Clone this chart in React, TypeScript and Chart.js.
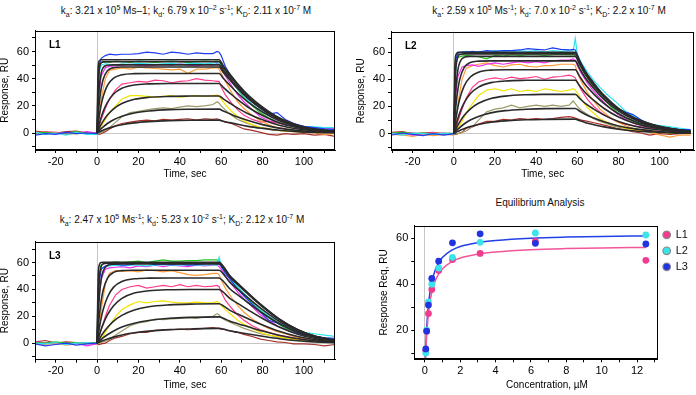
import React, { useEffect, useRef } from "react";
import { Chart, registerables } from "chart.js";

Chart.register(...registerables);

const FONT = '"Liberation Sans", Arial, Helvetica, sans-serif';
Chart.defaults.font.family = FONT;
Chart.defaults.color = "#000";

// ---------- sensorgram time bases ----------
const TRACE_T = [-30, -25, -20, -15, -10, -5, 0, 1, 2, 4, 6, 9, 12, 16, 20, 24, 28, 32, 36, 40, 44, 48, 52, 56, 58, 59, 60, 62, 65, 68, 71, 75, 79, 83, 87, 91, 95, 100, 105, 110, 115];
const FIT_T = [0, 0.5, 1, 2, 3, 5, 8, 12, 18, 25, 35, 45, 59, 61, 64, 68, 73, 80, 88, 97, 106, 115];

const TIME_TICK_STEP = 10;
const TIME_LABEL_STEP = 20;
const RESP_TICK_STEP = 10;
const RESP_LABEL_STEP = 20;

// ---------- L1 measured traces (blue, cyan, green, magenta, orange, pink, yellow, olive, dark red) ----------
const L1_BLUE = [-1.5, -0.5, -1, 0.5, -0.5, 0, -0.5, 50, 55, 57, 58, 57.5, 58, 58, 58.5, 59.5, 59, 58, 59.5, 59, 58, 59, 58.5, 58.5, 60, 59.5, 57, 49, 41, 35, 29, 23, 18, 14, 15, 10, 7, 5, 4, 3, 2.5];
const L1_CYAN = [0.5, -1, 0, -1.5, 0.5, -1, -1, 45, 50, 51, 50.5, 50, 51, 50.5, 51.5, 51, 50.5, 51, 51.5, 50.5, 51, 51.5, 51, 51.5, 52, 51, 50, 44, 38, 32, 27, 21, 16, 13, 12, 8, 6, 5, 4.5, 4, 4];
const L1_GREEN = [0, 0.5, -0.5, 0, 1, -0.5, 0, 48, 52, 52.5, 52, 53, 52.5, 52, 53, 52.5, 52, 52.5, 53, 52.5, 52, 52.5, 53, 52.5, 53, 52.5, 51, 46, 39, 32, 26, 20, 15, 11, 8, 6, 5, 3.5, 3, 2.5, 2];
const L1_MAGENTA = [0.5, 0, -0.5, 0.5, 0, 1, 0, 30, 42, 48, 49, 49.5, 50, 50.5, 50, 49.5, 50, 50.5, 50, 51, 50, 49.5, 50.5, 50, 51, 50, 47, 42, 35, 28, 23, 17, 12, 9, 8, 6, 5, 5, 4, 4, 3.5];
const L1_ORANGE = [-1, -0.5, 0, -1, -0.5, 0, -0.5, 10, 25, 40, 46, 47, 48, 47, 48.5, 48, 47.5, 47, 46.5, 47, 44, 47, 47, 48, 48, 47, 44, 38, 30, 23, 18, 13, 9, 6, 4, 3, 2, 1.5, 0, -1, -0.5];
const L1_PINK = [0, 1, 0.5, -0.5, 0, 0.5, 0, 5, 10, 18, 25, 32, 36, 37, 38, 37.5, 39, 38.5, 37, 38, 38.5, 40, 39, 38.5, 38, 38, 34, 28, 22, 17, 13, 10, 8, 8.5, 7.5, 6, 5, 4, 3.5, 3, 3];
const L1_YELLOW = [0.5, 0, -0.5, 0, 0.5, -0.5, 0, 2, 5, 10, 15, 20, 25, 27.5, 27.5, 27, 26.5, 27, 27.5, 26.5, 27, 27.5, 27, 27.5, 28, 27, 25, 21, 16, 12, 9, 6, 4, 3, 2, 1.5, 1, 1, 0.5, 0.5, 0.5];
const L1_OLIVE = [0, -0.5, 0.5, 0, -0.5, 0, -1, 0, 0.5, 2, 4, 8, 12, 15, 16, 17, 18, 18.5, 18, 19, 20, 19.5, 20, 21, 23, 22, 20, 17, 13, 10, 8, 6, 4, 3, 2, 1.5, 1, 0.5, 0, 0.5, 0];
const L1_DARKRED = [1.5, 0.5, 0, 1, 1.5, 0, -0.5, -1, -0.5, 1, 3, 5.5, 7, 8, 9, 9.5, 9, 10, 9.5, 10, 10.5, 9.5, 10.5, 10, 10.5, 10, 9, 8, 7, 5, 3, 2, 0.5, -1, -1.5, -0.5, -1, -0.5, -1.5, -1, -2.5];

// ---------- L2 measured traces ----------
const L2_BLUE = [-1, 0.5, -0.5, -1.5, 0, -1, 0, 55, 59, 60, 60, 60.5, 60, 61, 60.5, 61, 61, 61.5, 62.5, 62, 61.5, 63, 62, 61.5, 62, 61.5, 58, 51, 43, 37, 31, 25, 19, 16, 14, 10, 7, 5, 4, 3, 3];
const L2_CYAN = [0, -1, 0.5, 0, -0.5, 0.5, -0.5, 58, 60, 60, 60.5, 60, 60.5, 60, 61, 60.5, 60, 61, 60.5, 61, 60, 61, 60.5, 61, 61, 70, 58, 52, 45, 39, 34, 28, 23, 17, 13, 10, 7, 6, 5, 4, 3];
const L2_GREEN = [0.5, 1, 0, 0.5, -0.5, 0, 0.5, 52, 56, 57, 57.5, 57, 56.5, 55, 57.5, 57, 58, 57.5, 58, 58, 57.5, 58, 58.5, 58, 58, 57.5, 55, 49, 41, 34, 28, 22, 16, 12, 9, 7, 5, 4, 3.5, 2.5, 2];
const L2_MAGENTA = [0, 0.5, -1, 0, 0.5, -0.5, 0, 30, 42, 49, 50, 50.5, 49.5, 51, 52, 51, 52, 53, 52, 53, 52, 53.5, 54, 54, 55, 54, 50, 44, 37, 31, 26, 20, 15, 11, 8, 6, 4.5, 5, 4, 3, 2.5];
const L2_ORANGE = [-0.5, -1, -2, -0.5, -1.5, -0.5, -1, 8, 22, 40, 48, 50, 51, 52, 50, 49, 50.5, 51, 49.5, 49, 50, 50, 51, 51, 51, 50, 45, 38, 30, 24, 18, 13, 9, 6, 4, 3, 1, -1, -2.5, -1, -1];
const L2_PINK = [0.5, 0, 0.5, -0.5, 0, 0.5, 0, 4, 9, 18, 26, 34, 38, 40, 41, 40, 41.5, 40.5, 41, 42, 40, 41.5, 42, 43, 42, 41, 38, 32, 25, 20, 16, 12, 9, 7, 6, 5, 4, 3.5, 3, 2.5, 2];
const L2_YELLOW = [0, 0.5, 0, -0.5, 0.5, 0, -0.5, 2, 4, 9, 15, 22, 28, 32, 33, 31.5, 33, 31, 32, 31, 33, 32, 31, 32, 33, 32, 30, 25, 19, 15, 11, 8, 6, 4, 3, 2, 1.5, 1, 0.5, 0.5, 0.5];
const L2_OLIVE = [-0.5, 0, 0.5, -0.5, 0, -0.5, 0, 0, 0, 1, 2, 5, 10, 16, 18, 19, 21, 19, 20, 21, 20, 21, 20, 21, 24, 22, 20, 17, 14, 11, 9, 7, 5, 4, 3, 2, 1.5, 1, 0.5, 0, 0];
const L2_DARKRED = [1, 1.5, 0, 0.5, 1, 0, 0, -0.5, 0, 1, 4, 5, 7, 9, 9, 10.5, 10, 11, 10.5, 11, 10.5, 11, 12, 12.5, 12, 11.5, 11, 10, 9, 8, 7, 5.5, 4, 3, 1.5, 0.5, -1, 0, -0.5, 0, 0.5];

// ---------- L3 measured traces ----------
const L3_BLUE = [-0.5, -2, -1, 0, -1.5, -0.5, 0, 45, 55, 57.5, 58.5, 59, 58, 58.5, 60, 59.5, 58.5, 59, 58.5, 59, 58, 58.5, 59, 59.5, 59, 59, 57, 52, 46, 40, 35, 29, 23, 17, 15, 12, 9, 6, 5, 4, 3.5];
const L3_CYAN = [0, -0.5, 0.5, -1, 0, 0.5, -0.5, 50, 56, 57, 57.5, 58, 57.5, 58, 58, 57.5, 58, 58.5, 58, 58, 58.5, 58, 58, 58.5, 58, 64, 58, 53, 47, 42, 37, 31, 25, 20, 16, 13, 10, 8, 7, 6, 5];
const L3_GREEN = [0.5, 0, 1, 0, 0.5, 0, 0.5, 50, 58, 60, 60, 60.5, 60, 60.5, 61, 60, 61, 62, 61, 61, 61.5, 61.5, 62, 62, 62, 61.5, 58, 53, 47, 41, 36, 30, 24, 19, 15, 11, 9, 6, 5, 4, 3];
const L3_MAGENTA = [1, 0, 0.5, -0.5, 0, -2, -0.5, 35, 48, 55, 56, 56.5, 57, 56, 57.5, 57, 58, 57, 58, 57.5, 57, 58, 57.5, 58, 58, 57, 55, 50, 44, 38, 33, 27, 21, 17, 13, 10, 8, 6, 5, 4, 3];
const L3_ORANGE = [-0.5, -1, 0, -1.5, -0.5, 0, -1, 10, 25, 44, 52, 54, 53.5, 54, 53, 54.5, 54, 53, 54, 52.5, 51, 50.5, 51, 52, 52, 51, 47, 41, 34, 28, 23, 18, 14, 11, 8.5, 7, 5, 3.5, 2.5, 2, 1];
const L3_PINK = [0.5, 0, -0.5, 0.5, 0, 0.5, 0, 5, 10, 20, 28, 36, 40, 42, 43, 41, 42, 43, 42, 43.5, 42, 43, 42, 42.5, 43, 42, 38, 32, 26, 21, 17, 13, 10, 8, 6, 5, 4, 3, 2.5, 2, 2];
const L3_YELLOW = [0, 0.5, 0, -0.5, 0.5, 0, -0.5, 1, 3, 8, 13, 20, 25, 28.5, 31, 30, 31, 31.5, 30.5, 30, 30, 30.5, 30, 30, 31, 30, 28, 25, 21, 17, 14, 11, 8, 6, 5, 4, 3, 2, 1.5, 1, 1];
const L3_OLIVE = [0, 0.5, -0.5, 0, 0.5, -0.5, 0, 0, 0.5, 1.5, 3, 6, 9, 13, 15, 16, 18, 17.5, 18, 18.5, 19, 18.5, 19.5, 20, 22, 21, 19, 17, 15, 13, 11, 9, 7, 6, 4.5, 3.5, 2.5, 1.5, 1, 0.5, 0.5];
const L3_DARKRED = [1, 2, 0, 1, 0.5, 0, -0.5, -1, -0.5, 0, 2, 4, 5, 7, 8, 8, 9.5, 10, 10, 10.5, 10, 10.5, 11, 11.5, 11, 11, 10.5, 10, 9, 8, 6.5, 5, 3, 2, 1, 0.5, -0.5, -0.5, -1, -2, -1];

// ---------- model fits (black curves) ----------
const L1_FITS = [
  [0, 0.4, 0.8, 1.5, 2.1, 3.3, 4.7, 6.1, 7.5, 8.4, 9.1, 9.4, 9.5, 8.7, 7.7, 6.4, 4.9, 3.4, 2.0, 1.0, 0.5, 0.2],
  [0, 0.9, 1.7, 3.2, 4.6, 7.0, 9.8, 12.4, 14.8, 16.2, 17.2, 17.5, 17.6, 16.2, 14.3, 11.8, 9.2, 6.2, 3.6, 1.9, 0.9, 0.4],
  [0, 1.7, 3.4, 6.3, 8.9, 13.2, 17.8, 21.7, 24.8, 26.3, 27.0, 27.2, 27.3, 25.1, 22.1, 18.3, 14.2, 9.7, 5.7, 2.9, 1.4, 0.7],
  [0, 3.4, 6.4, 11.7, 16.1, 22.6, 28.7, 32.9, 35.4, 36.2, 36.5, 36.5, 36.5, 33.6, 29.6, 24.5, 19.0, 12.9, 7.6, 3.9, 1.8, 0.9],
  [0, 6.5, 12.0, 20.7, 27.0, 35.0, 40.4, 42.9, 43.7, 43.8, 43.8, 43.8, 43.8, 40.3, 35.5, 29.3, 22.8, 15.5, 9.1, 4.7, 2.2, 1.1],
  [0, 12.1, 21.1, 33.0, 39.8, 45.8, 48.1, 48.6, 48.6, 48.6, 48.6, 48.6, 48.6, 44.7, 39.4, 32.6, 25.3, 17.2, 10.1, 5.2, 2.4, 1.2],
  [0, 20.8, 33.0, 44.3, 48.2, 49.9, 50.2, 50.2, 50.2, 50.2, 50.2, 50.2, 50.2, 46.2, 40.7, 33.6, 26.1, 17.8, 10.4, 5.4, 2.5, 1.3],
  [0, 33.9, 45.9, 51.7, 52.4, 52.5, 52.5, 52.5, 52.5, 52.5, 52.5, 52.5, 52.5, 48.3, 42.5, 35.2, 27.3, 18.6, 10.9, 5.6, 2.6, 1.3],
  [0, 46.8, 53.0, 53.9, 53.9, 53.9, 53.9, 53.9, 53.9, 53.9, 53.9, 53.9, 53.9, 49.6, 43.7, 36.1, 28.0, 19.1, 11.2, 5.8, 2.7, 1.3],
];
const L2_FITS = [
  [0, 0.4, 0.9, 1.7, 2.4, 3.7, 5.2, 6.8, 8.4, 9.4, 10.2, 10.5, 10.7, 9.6, 8.1, 6.6, 5.0, 3.3, 2.0, 1.2, 0.6, 0.3],
  [0, 0.9, 1.7, 3.3, 4.7, 7.1, 10.0, 12.7, 15.3, 16.9, 17.9, 18.4, 18.5, 16.7, 14.1, 11.5, 8.7, 5.7, 3.5, 2.0, 1.1, 0.6],
  [0, 1.7, 3.3, 6.3, 8.9, 13.3, 18.1, 22.3, 25.8, 27.6, 28.6, 28.9, 29.0, 26.1, 22.0, 18.0, 13.6, 9.0, 5.5, 3.2, 1.7, 0.9],
  [0, 3.2, 6.2, 11.4, 15.8, 22.6, 29.3, 34.2, 37.5, 38.7, 39.2, 39.3, 39.3, 35.4, 29.9, 24.4, 18.5, 12.2, 7.5, 4.3, 2.4, 1.2],
  [0, 6.0, 11.2, 19.7, 26.2, 34.9, 41.6, 45.2, 46.7, 47.0, 47.0, 47.0, 47.0, 42.3, 35.7, 29.1, 22.1, 14.6, 8.9, 5.2, 2.8, 1.4],
  [0, 11.3, 20.2, 32.7, 40.6, 48.5, 52.3, 53.3, 53.5, 53.5, 53.5, 53.5, 53.5, 48.2, 40.7, 33.2, 25.1, 16.6, 10.2, 5.9, 3.2, 1.6],
  [0, 20.2, 33.2, 47.0, 52.7, 56.1, 56.8, 56.8, 56.8, 56.8, 56.8, 56.8, 56.8, 51.1, 43.2, 35.2, 26.7, 17.6, 10.8, 6.2, 3.4, 1.7],
  [0, 33.4, 47.8, 56.6, 58.2, 58.6, 58.6, 58.6, 58.6, 58.6, 58.6, 58.6, 58.6, 52.7, 44.5, 36.3, 27.5, 18.2, 11.1, 6.4, 3.5, 1.8],
  [0, 48.4, 57.6, 59.7, 59.8, 59.8, 59.8, 59.8, 59.8, 59.8, 59.8, 59.8, 59.8, 53.8, 45.4, 37.1, 28.1, 18.5, 11.4, 6.6, 3.6, 1.8],
];
const L3_FITS = [
  [0, 0.4, 0.7, 1.4, 2.0, 3.1, 4.5, 6.1, 7.7, 9.0, 10.1, 10.6, 11.0, 10.5, 9.2, 8.1, 6.8, 5.1, 3.3, 1.8, 0.9, 0.4],
  [0, 0.8, 1.5, 2.8, 4.1, 6.3, 9.1, 12.0, 14.9, 16.9, 18.5, 19.2, 19.6, 18.6, 16.5, 14.5, 12.2, 9.0, 5.9, 3.3, 1.6, 0.7],
  [0, 1.5, 2.8, 5.4, 7.8, 11.7, 16.4, 20.7, 24.7, 27.1, 28.5, 29.1, 29.3, 27.8, 24.6, 21.7, 18.2, 13.5, 8.8, 4.9, 2.4, 1.0],
  [0, 2.9, 5.5, 10.3, 14.4, 21.0, 27.8, 33.3, 37.3, 39.0, 39.8, 40.0, 40.0, 38.0, 33.6, 29.6, 24.8, 18.4, 12.0, 6.7, 3.3, 1.4],
  [0, 5.6, 10.5, 18.8, 25.2, 34.2, 41.7, 45.9, 47.9, 48.4, 48.5, 48.5, 48.5, 46.1, 40.7, 35.9, 30.1, 22.3, 14.6, 8.1, 4.0, 1.7],
  [0, 10.8, 19.3, 31.8, 39.8, 48.3, 52.7, 54.0, 54.3, 54.3, 54.3, 54.3, 54.3, 51.6, 45.6, 40.2, 33.7, 25.0, 16.3, 9.1, 4.5, 1.9],
  [0, 19.8, 33.0, 47.5, 53.9, 57.9, 58.8, 58.9, 58.9, 58.9, 58.9, 58.9, 58.9, 56.0, 49.5, 43.6, 36.5, 27.1, 17.7, 9.8, 4.8, 2.1],
  [0, 32.8, 47.6, 57.2, 59.1, 59.6, 59.6, 59.6, 59.6, 59.6, 59.6, 59.6, 59.6, 56.6, 50.1, 44.1, 37.0, 27.4, 17.9, 10.0, 4.9, 2.1],
  [0, 47.7, 57.6, 60.1, 60.2, 60.2, 60.2, 60.2, 60.2, 60.2, 60.2, 60.2, 60.2, 57.2, 50.6, 44.5, 37.3, 27.7, 18.1, 10.1, 4.9, 2.1],
];

// ---------- equilibrium analysis ----------
const CONC_UM = [0.05, 0.1, 0.2, 0.39, 0.78, 1.56, 3.125, 6.25, 12.5];
const REQ_L1 = [11, 19.5, 27.2, 37.7, 46, 50.7, 53.4, 58.6, 50.4];
const REQ_L2 = [10, 20, 32.3, 40, 47, 51.7, 58.2, 62.3, 61.4];
const REQ_L3 = [11.8, 19.6, 30.9, 42.5, 50, 58, 61.9, 57.8, 57.5];
const EQ_FIT_X = [0.03, 0.05, 0.1, 0.15, 0.2, 0.3, 0.4, 0.6, 0.8, 1.0, 1.5, 2, 3, 4, 6, 8, 10, 12.5];
const EQ_FIT_L1 = [6.8, 10.6, 17.8, 23.1, 27.1, 32.9, 36.8, 41.7, 44.7, 46.7, 49.7, 51.4, 53.1, 54.0, 55.0, 55.5, 55.8, 56.0];
const EQ_FIT_L3 = [8.1, 12.4, 20.7, 26.6, 31.0, 37.2, 41.3, 46.5, 49.6, 51.7, 54.7, 56.4, 58.1, 59.0, 60.0, 60.5, 60.8, 61.0];
const LIGAND_LABELS = ["L1", "L2", "L3"];

// ---------- styles ----------
const TRACE_COLORS = ["#1f3cf2", "#2fe2f0", "#22c21e", "#ee30ee", "#ff9c3a", "#ff3a8c", "#f2e400", "#9c9a68", "#a8302a"];
const FIT_COLOR = "#2a2a2a";
const LIGAND_COLORS = ["#f03c8c", "#3ae4ea", "#2233e2"];

const gridZero = (c: any) => (c.tick && c.tick.value === 0 ? "#c6c6c6" : "rgba(0,0,0,0)");

function framePlugin(tag: string | null) {
  return {
    id: "frame",
    afterDatasetsDraw(chart: any) {
      const { ctx, chartArea } = chart;
      const l = Math.round(chartArea.left) + 0.5;
      const t = Math.round(chartArea.top) + 0.5;
      const r = Math.round(chartArea.right) - 0.5;
      const b = Math.round(chartArea.bottom) - 0.5;
      ctx.save();
      ctx.strokeStyle = "#000";
      ctx.lineWidth = 1;
      ctx.strokeRect(l, t, r - l, b - t);
      if (tag) {
        ctx.fillStyle = "#000";
        ctx.font = `bold 10px ${FONT}`;
        ctx.textAlign = "left";
        ctx.textBaseline = "middle";
        ctx.fillText(tag, chartArea.left + 14, chartArea.top + 15);
      }
      ctx.restore();
    },
  };
}

type SensorSpec = {
  traces: number[][];
  fits: number[][];
  xMin: number;
  xMax: number;
  yMin: number;
  yMax: number;
  tag: string;
  padTop: number;
  padRight: number;
  xAxisH: number;
};

function sensorConfig(p: SensorSpec): any {
  const datasets: any[] = [];
  p.fits.forEach((f) =>
    datasets.push({
      data: FIT_T.map((t, i) => ({ x: t, y: f[i] })),
      borderColor: FIT_COLOR,
      borderWidth: 1.6,
      pointRadius: 0,
      cubicInterpolationMode: "monotone",
      fill: false,
      order: 0,
    })
  );
  p.traces.forEach((tr, k) =>
    datasets.push({
      data: TRACE_T.map((t, i) => ({ x: t, y: tr[i] })),
      borderColor: TRACE_COLORS[k],
      borderWidth: 1.2,
      pointRadius: 0,
      tension: 0,
      fill: false,
      order: 1,
    })
  );
  return {
    type: "line",
    data: { datasets },
    options: {
      responsive: false,
      animation: false,
      events: [],
      layout: { autoPadding: false, padding: { top: p.padTop, right: p.padRight, left: 0, bottom: 0 } },
      plugins: { legend: { display: false }, tooltip: { enabled: false } },
      scales: {
        x: {
          type: "linear",
          min: p.xMin,
          max: p.xMax,
          afterFit: (s: any) => {
            s.height = p.xAxisH;
          },
          ticks: {
            stepSize: TIME_TICK_STEP,
            includeBounds: false,
            autoSkip: false,
            maxRotation: 0,
            padding: 2,
            color: "#000",
            font: { size: 11 },
            callback: (v: number) => (v % TIME_LABEL_STEP === 0 ? String(v) : ""),
          },
          grid: { color: gridZero, tickColor: "#000", tickLength: 3, lineWidth: 1 },
          border: { display: true, color: "#000" },
          title: { display: true, text: "Time, sec", color: "#000", font: { size: 10, lineHeight: 1 }, padding: 0 },
        },
        y: {
          type: "linear",
          min: p.yMin,
          max: p.yMax,
          afterFit: (s: any) => {
            s.width = 35;
          },
          ticks: {
            stepSize: RESP_TICK_STEP,
            includeBounds: false,
            autoSkip: false,
            padding: 3,
            color: "#000",
            font: { size: 11 },
            callback: (v: number) => (v % RESP_LABEL_STEP === 0 ? String(v) : ""),
          },
          grid: { color: gridZero, tickColor: "#000", tickLength: 3, lineWidth: 1 },
          border: { display: true, color: "#000" },
          title: { display: true, text: "Response, RU", color: "#000", font: { size: 10, lineHeight: 1 }, padding: 0 },
        },
      },
    },
    plugins: [framePlugin(p.tag)],
  };
}

const buildL1 = () =>
  sensorConfig({
    traces: [L1_BLUE, L1_CYAN, L1_GREEN, L1_MAGENTA, L1_ORANGE, L1_PINK, L1_YELLOW, L1_OLIVE, L1_DARKRED],
    fits: L1_FITS,
    xMin: -30,
    xMax: 115,
    yMin: -12.5,
    yMax: 75.4,
    tag: "L1",
    padTop: 2.3,
    padRight: 2,
    xAxisH: 29,
  });

const buildL2 = () =>
  sensorConfig({
    traces: [L2_BLUE, L2_CYAN, L2_GREEN, L2_MAGENTA, L2_ORANGE, L2_PINK, L2_YELLOW, L2_OLIVE, L2_DARKRED],
    fits: L2_FITS,
    xMin: -30.5,
    xMax: 116.8,
    yMin: -12,
    yMax: 75,
    tag: "L2",
    padTop: 2.5,
    padRight: 1.7,
    xAxisH: 29,
  });

const buildL3 = () =>
  sensorConfig({
    traces: [L3_BLUE, L3_CYAN, L3_GREEN, L3_MAGENTA, L3_ORANGE, L3_PINK, L3_YELLOW, L3_OLIVE, L3_DARKRED],
    fits: L3_FITS,
    xMin: -30,
    xMax: 115,
    yMin: -12.3,
    yMax: 75.6,
    tag: "L3",
    padTop: 1.7,
    padRight: 2,
    xAxisH: 30.3,
  });

const eqExtras = {
  id: "eqExtras",
  afterDraw(chart: any) {
    const { ctx, chartArea } = chart;
    ctx.save();
    // x axis title
    ctx.fillStyle = "#000";
    ctx.font = `10px ${FONT}`;
    ctx.textAlign = "center";
    ctx.textBaseline = "middle";
    ctx.fillText("Concentration, \u00B5M", chartArea.left + 132.7, chartArea.bottom + 25.7);
    // legend
    LIGAND_LABELS.forEach((lab, i) => {
      const cx = chartArea.right + 9;
      const cy = chartArea.top + 9.2 + i * 16;
      ctx.beginPath();
      ctx.arc(cx, cy, 3.8, 0, Math.PI * 2);
      ctx.fillStyle = LIGAND_COLORS[i];
      ctx.fill();
      ctx.lineWidth = 1.2;
      ctx.strokeStyle = "#8a8a8a";
      ctx.stroke();
      ctx.fillStyle = "#111";
      ctx.font = `11px ${FONT}`;
      ctx.textAlign = "left";
      ctx.textBaseline = "middle";
      ctx.fillText(lab, cx + 9, cy + 0.5);
    });
    ctx.restore();
  },
};

const buildEq = (): any => {
  const pts = (ys: number[]) => CONC_UM.map((c, i) => ({ x: c, y: ys[i] }));
  return {
    type: "line",
    data: {
      datasets: [
        {
          data: EQ_FIT_X.map((c, i) => ({ x: c, y: EQ_FIT_L1[i] })),
          borderColor: "#f2559a",
          borderWidth: 1.5,
          pointRadius: 0,
          cubicInterpolationMode: "monotone",
          fill: false,
          order: 3,
        },
        {
          data: EQ_FIT_X.map((c, i) => ({ x: c, y: EQ_FIT_L3[i] })),
          borderColor: "#2340e6",
          borderWidth: 1.5,
          pointRadius: 0,
          cubicInterpolationMode: "monotone",
          fill: false,
          order: 3,
        },
        { label: LIGAND_LABELS[0], data: pts(REQ_L1), showLine: false, pointRadius: 3.4, pointBorderWidth: 0, backgroundColor: LIGAND_COLORS[0], borderColor: LIGAND_COLORS[0], order: 2 },
        { label: LIGAND_LABELS[1], data: pts(REQ_L2), showLine: false, pointRadius: 3.4, pointBorderWidth: 0, backgroundColor: LIGAND_COLORS[1], borderColor: LIGAND_COLORS[1], order: 1 },
        { label: LIGAND_LABELS[2], data: pts(REQ_L3), showLine: false, pointRadius: 3.4, pointBorderWidth: 0, backgroundColor: LIGAND_COLORS[2], borderColor: LIGAND_COLORS[2], order: 0 },
      ],
    },
    options: {
      responsive: false,
      animation: false,
      events: [],
      layout: { autoPadding: false, padding: { top: 1.5, right: 38.3, left: 0, bottom: 0 } },
      plugins: { legend: { display: false }, tooltip: { enabled: false } },
      scales: {
        x: {
          type: "linear",
          min: -0.6,
          max: 13.17,
          afterFit: (s: any) => {
            s.height = 30.7;
          },
          ticks: {
            stepSize: 1,
            includeBounds: false,
            autoSkip: false,
            maxRotation: 0,
            padding: 2,
            color: "#000",
            font: { size: 11 },
            callback: (v: number) => (v % 2 === 0 ? String(v) : ""),
          },
          grid: { color: gridZero, tickColor: "#000", tickLength: 3 },
          border: { display: true, color: "#000" },
          title: { display: false },
        },
        y: {
          type: "linear",
          min: 7.3,
          max: 65.5,
          afterFit: (s: any) => {
            s.width = 35.3;
          },
          ticks: {
            stepSize: 10,
            includeBounds: false,
            autoSkip: false,
            padding: 3,
            color: "#000",
            font: { size: 11 },
            callback: (v: number) => (v % 20 === 0 ? String(v) : ""),
          },
          grid: { color: "rgba(0,0,0,0)", tickColor: "#000", tickLength: 3 },
          border: { display: true, color: "#000" },
          title: { display: true, text: "Response Req, RU", color: "#000", font: { size: 10, lineHeight: 1 }, padding: 0 },
        },
      },
    },
    plugins: [framePlugin(null), eqExtras],
  };
};

function ChartBox(props: { left: number; top: number; width: number; height: number; build: () => any }) {
  const ref = useRef<HTMLCanvasElement | null>(null);
  useEffect(() => {
    if (!ref.current) return;
    const chart = new Chart(ref.current, props.build());
    return () => chart.destroy();
  }, [props.build]);
  return (
    <canvas
      ref={ref}
      width={props.width}
      height={props.height}
      style={{ position: "absolute", left: props.left, top: props.top, width: props.width, height: props.height }}
    />
  );
}

const supStyle: React.CSSProperties = { fontSize: 7, verticalAlign: "super", lineHeight: 0 };
const subStyle: React.CSSProperties = { fontSize: 7, verticalAlign: "sub", lineHeight: 0 };
const Sup = ({ children }: { children: React.ReactNode }) => <span style={supStyle}>{children}</span>;
const Sub = ({ children }: { children: React.ReactNode }) => <span style={subStyle}>{children}</span>;

function Title(props: { x: number; y: number; children: React.ReactNode }) {
  return (
    <div
      style={{
        position: "absolute",
        left: props.x,
        top: props.y,
        transform: "translate(-50%, -50%)",
        whiteSpace: "nowrap",
        fontFamily: FONT,
        fontSize: 10,
        lineHeight: "12px",
        color: "#111",
      }}
    >
      {props.children}
    </div>
  );
}

export default function App() {
  return (
    <div
      style={{
        position: "absolute",
        left: 0,
        top: 0,
        width: 696,
        height: 395,
        background: "#fff",
        overflow: "hidden",
        fontFamily: FONT,
      }}
    >
      <Title x={186} y={11}>
        k<Sub>a</Sub>: 3.21 x 10<Sup>5</Sup> Ms–1; k<Sub>d</Sub>: 6.79 x 10<Sup>–2</Sup> s<Sup>-1</Sup>; K<Sub>D</Sub>: 2.11 x 10<Sup>-7</Sup> M
      </Title>
      <Title x={549} y={11}>
        k<Sub>a</Sub>: 2.59 x 10<Sup>5</Sup> Ms<Sup>-1</Sup>; k<Sub>d</Sub>: 7.0 x 10<Sup>-2</Sup> s<Sup>-1</Sup>; K<Sub>D</Sub>: 2.2 x 10<Sup>-7</Sup> M
      </Title>
      <Title x={182} y={220}>
        k<Sub>a</Sub>: 2.47 x 10<Sup>5</Sup> Ms<Sup>-1</Sup>; k<Sub>d</Sub>: 5.23 x 10<Sup>-2</Sup> s<Sup>-1</Sup>; K<Sub>D</Sub>: 2.12 x 10<Sup>-7</Sup> M
      </Title>
      <Title x={540} y={203}>Equilibrium Analysis</Title>
      <ChartBox left={0} top={21} width={337} height={158} build={buildL1} />
      <ChartBox left={356} top={22} width={340} height={157} build={buildL2} />
      <ChartBox left={0} top={232} width={337} height={158} build={buildL3} />
      <ChartBox left={379} top={216} width={317} height={174} build={buildEq} />
    </div>
  );
}
